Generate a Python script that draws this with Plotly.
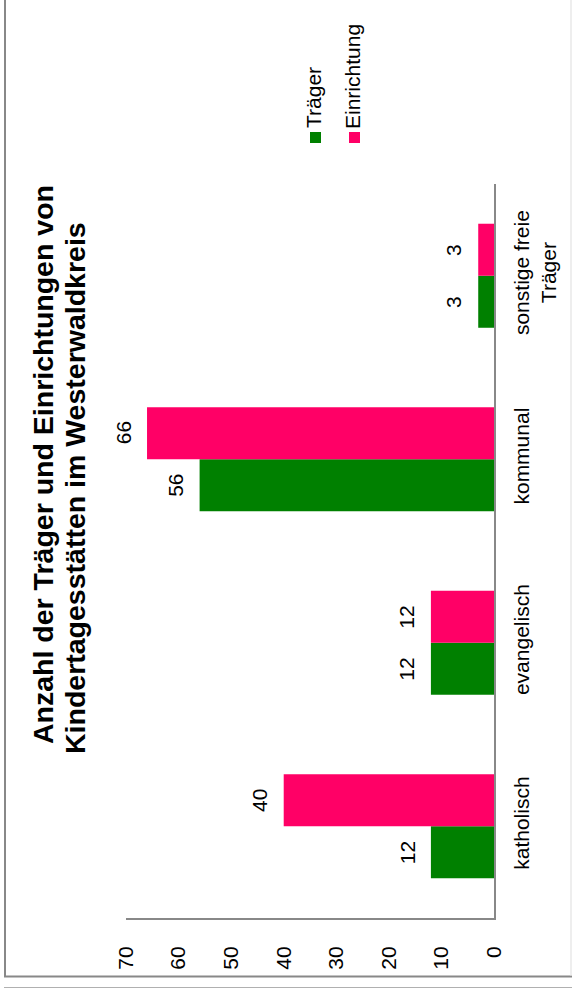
import plotly.graph_objects as go

# ---- data ----
categories = ["katholisch", "evangelisch", "kommunal", "sonstige freie<br>Träger"]
traeger = [12, 12, 56, 3]
einrichtung = [40, 12, 66, 3]
series_names = ["Träger", "Einrichtung"]
value_ticks = [0, 10, 20, 30, 40, 50, 60, 70]
title_lines = ["Anzahl der Träger und Einrichtungen von",
               "Kindertagesstätten im Westerwaldkreis"]

GREEN = "#008000"
PINK = "#FF0066"
FONT = "Liberation Sans, Arial, sans-serif"

W, H = 572, 988
L, R, T, B = 126, 78, 184, 70
PW, PH = W - L - R, H - T - B


def px_x(x):
    return (x - L) / PW


def px_y(y):
    return (H - B - y) / PH


fig = go.Figure()
for name, vals, col in [(series_names[0], traeger, GREEN),
                        (series_names[1], einrichtung, PINK)]:
    fig.add_trace(go.Bar(
        y=categories, x=vals, orientation="h", name=name,
        marker=dict(color=col, line=dict(width=0)),
        showlegend=False, hoverinfo="skip",
    ))

annotations = []
# data labels
for vals, shift in [(traeger, -26), (einrichtung, 26)]:
    for c, v in zip(categories, vals):
        annotations.append(dict(
            x=v, y=c, xref="x", yref="y", text=str(v), showarrow=False,
            textangle=-90, xshift=-24, yshift=shift,
            font=dict(family=FONT, size=21, color="black"),
            xanchor="center", yanchor="middle"))

# title
for i, (line, cx, cy) in enumerate(zip(title_lines, [43, 75], [465, 488])):
    annotations.append(dict(
        x=px_x(cx), y=px_y(cy), xref="paper", yref="paper",
        text="<b>%s</b>" % line, showarrow=False, textangle=-90,
        font=dict(family=FONT, size=28.5, color="black"),
        xanchor="center", yanchor="middle"))

# legend
shapes = []
for name, col, cx, ty in [(series_names[0], GREEN, 315.5, 98),
                          (series_names[1], PINK, 354.5, 77)]:
    shapes.append(dict(type="rect", xref="paper", yref="paper",
                       x0=px_x(cx - 5.5), x1=px_x(cx + 5.5),
                       y0=px_y(143), y1=px_y(132),
                       fillcolor=col, line=dict(width=0)))
    annotations.append(dict(
        x=px_x(cx - 1.5), y=px_y(ty), xref="paper", yref="paper",
        text=name, showarrow=False, textangle=-90,
        font=dict(family=FONT, size=21, color="black"),
        xanchor="center", yanchor="middle"))

# frame lines
shapes += [
    dict(type="line", xref="paper", yref="paper", x0=px_x(5), x1=px_x(5),
         y0=px_y(0), y1=px_y(977), line=dict(color="#888888", width=2)),
    dict(type="line", xref="paper", yref="paper", x0=px_x(4), x1=px_x(572),
         y0=px_y(976.5), y1=px_y(976.5), line=dict(color="#888888", width=2)),
    dict(type="line", xref="paper", yref="paper", x0=px_x(571), x1=px_x(571),
         y0=px_y(0), y1=px_y(976), line=dict(color="#dddddd", width=1)),
    dict(type="line", xref="paper", yref="paper", x0=px_x(4), x1=px_x(572),
         y0=px_y(987.5), y1=px_y(987.5), line=dict(color="#b0b0b0", width=1)),
]

fig.update_layout(
    width=W, height=H,
    margin=dict(l=L, r=R, t=T, b=B, pad=0),
    paper_bgcolor="white", plot_bgcolor="white",
    barmode="group", bargap=0.433, bargroupgap=0,
    font=dict(family=FONT, size=21, color="black"),
    annotations=annotations, shapes=shapes,
    hovermode=False,
    xaxis=dict(range=[70, 0], tickvals=value_ticks, tickangle=-90,
               showgrid=False, zeroline=False, showline=True,
               linecolor="#888888", linewidth=2, ticks="",
               ticklabelstandoff=18, fixedrange=True,
               tickfont=dict(family=FONT, size=21, color="black")),
    yaxis=dict(side="right", tickangle=-90, showgrid=False, zeroline=False,
               showline=True, linecolor="#888888", linewidth=2, ticks="",
               ticklabelstandoff=8, fixedrange=True,
               tickfont=dict(family=FONT, size=21, color="black")),
)

fig.write_html("out.html",
               config={"displayModeBar": False, "staticPlot": True},
               post_script="document.body.style.margin='0';"
                           "document.body.style.overflow='hidden';")
